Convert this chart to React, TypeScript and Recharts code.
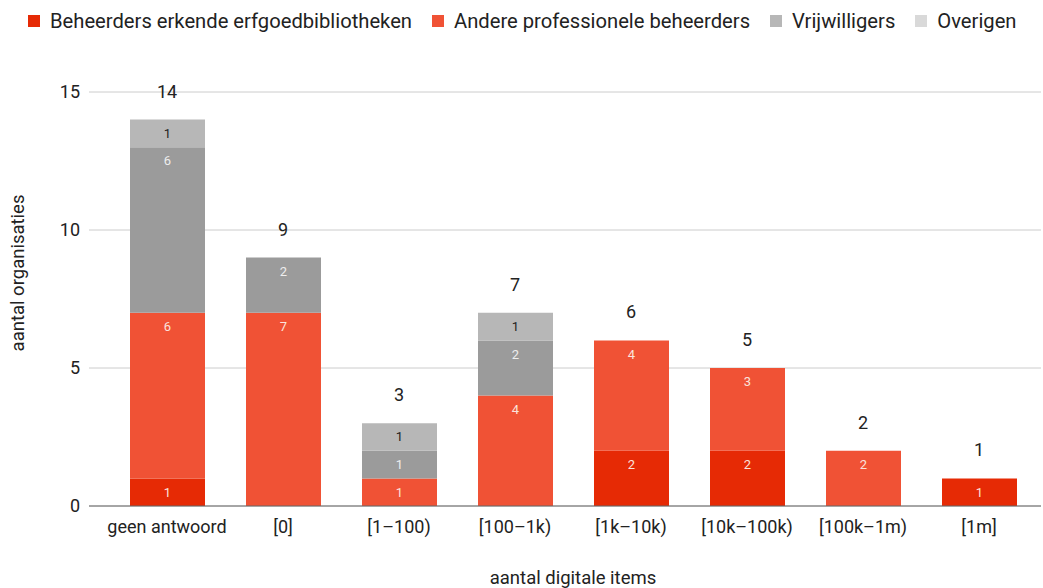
import {
  Bar,
  CartesianGrid,
  ComposedChart,
  LabelList,
  Line,
  XAxis,
  YAxis,
} from 'recharts'

const CATEGORIES = [
  'geen antwoord',
  '[0]',
  '[1–100)',
  '[100–1k)',
  '[1k–10k)',
  '[10k–100k)',
  '[100k–1m)',
  '[1m]',
]

const ERKEND = [1, 0, 0, 0, 2, 2, 0, 1]
const PROFESSIONEEL = [6, 7, 1, 4, 4, 3, 2, 0]
const VRIJWILLIGERS = [6, 2, 1, 2, 0, 0, 0, 0]
const OVERIGEN = [1, 0, 1, 1, 0, 0, 0, 0]

const Y_TICKS = [0, 5, 10, 15]

const SERIES = [
  { key: 'erkend', name: 'Beheerders erkende erfgoedbibliotheken', color: '#e62a05', legend: '#e62a05', label: '#fbe3dc' },
  { key: 'professioneel', name: 'Andere professionele beheerders', color: '#f05235', legend: '#f05235', label: '#fbe3dc' },
  { key: 'vrijwilligers', name: 'Vrijwilligers', color: '#9b9b9b', legend: '#b7b7b7', label: '#eeeeee' },
  { key: 'overigen', name: 'Overigen', color: '#b7b7b7', legend: '#d9d9d9', label: '#222222' },
]

const data = CATEGORIES.map((name, i) => ({
  name,
  erkend: ERKEND[i],
  professioneel: PROFESSIONEEL[i],
  vrijwilligers: VRIJWILLIGERS[i],
  overigen: OVERIGEN[i],
  total: ERKEND[i] + PROFESSIONEEL[i] + VRIJWILLIGERS[i] + OVERIGEN[i],
}))

const FONT = 'Roboto, "Noto Sans", sans-serif'
const TEXT = '#222222'

function Legend() {
  return (
    <div
      style={{
        position: 'absolute',
        top: 8,
        left: 28,
        height: 26,
        display: 'flex',
        alignItems: 'center',
        fontFamily: FONT,
        fontSize: 20.2,
        color: TEXT,
        whiteSpace: 'nowrap',
      }}
    >
      {SERIES.map((s) => (
        <div key={s.key} style={{ display: 'flex', alignItems: 'center', marginRight: 20 }}>
          <span style={{ width: 12, height: 12, background: s.legend, marginRight: 10 }} />
          <span>{s.name}</span>
        </div>
      ))}
    </div>
  )
}

export default function App() {
  return (
    <div style={{ position: 'absolute', left: 0, top: 0, width: 1043, height: 588, background: '#fff' }}>
      <Legend />
      <ComposedChart
        width={1043}
        height={588}
        data={data}
        margin={{ top: 92, right: 2, bottom: 0, left: 9 }}
        barSize={75}
      >
        <CartesianGrid vertical={false} stroke="#cccccc" />
        <XAxis
          dataKey="name"
          height={82}
          padding={{ left: 20, right: 4 }}
          tickLine={false}
          tickSize={0}
          tickMargin={14}
          axisLine={{ stroke: '#666666' }}
          tick={{ fill: TEXT, fontSize: 18, fontFamily: FONT }}
          label={{
            content: ({ viewBox }: any) => (
              <text
                x={viewBox.x + viewBox.width / 2 + 8}
                y={viewBox.y + 78}
                textAnchor="middle"
                fill={TEXT}
                fontSize={18.5}
                fontFamily={FONT}
              >
                aantal digitale items
              </text>
            ),
          }}
        />
        <YAxis
          width={80}
          domain={[0, 15]}
          ticks={Y_TICKS}
          axisLine={false}
          tickLine={false}
          tickSize={0}
          tickMargin={9}
          tick={{ fill: TEXT, fontSize: 18, fontFamily: FONT }}
          label={{
            content: () => {
              const cx = 18
              const cy = 273
              return (
                <text
                  x={cx}
                  y={cy}
                  transform={`rotate(-90 ${cx} ${cy})`}
                  textAnchor="middle"
                  dominantBaseline="central"
                  fill={TEXT}
                  fontSize={18.5}
                  fontFamily={FONT}
                >
                  aantal organisaties
                </text>
              )
            },
          }}
        />
        {SERIES.map((s) => (
          <Bar key={s.key} dataKey={s.key} name={s.name} stackId="a" fill={s.color} isAnimationActive={false}>
            <LabelList
              dataKey={s.key}
              position="insideTop"
              offset={9}
              fill={s.label}
              fontSize={13}
              fontFamily={FONT}
              formatter={(v: any) => (v ? v : '')}
            />
          </Bar>
        ))}
        <Line
          dataKey="total"
          stroke="none"
          dot={false}
          activeDot={false}
          legendType="none"
          isAnimationActive={false}
        >
          <LabelList dataKey="total" position="top" offset={22} fill={TEXT} fontSize={18} fontFamily={FONT} />
        </Line>
      </ComposedChart>
    </div>
  )
}
